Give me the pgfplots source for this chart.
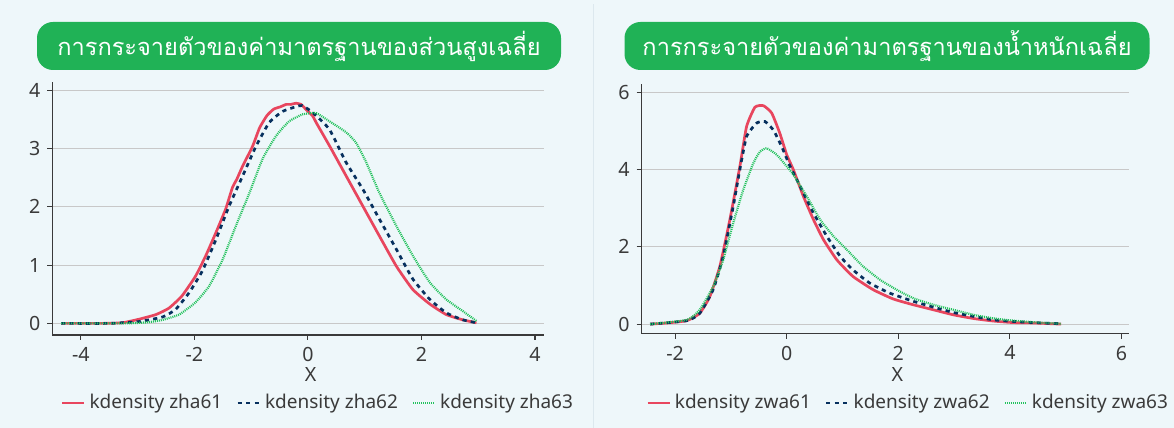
\documentclass[border=0pt]{standalone}
\usepackage{fontspec}
\usepackage{pgfplots}
\pgfplotsset{compat=1.18}
\setmainfont{Noto Sans}
\newfontfamily\thaifont[Script=Thai]{Loma}
\definecolor{bgc}{HTML}{EEF7FA}
\definecolor{sepc}{HTML}{DCE8EE}
\definecolor{titlegreen}{HTML}{20B256}
\definecolor{cred}{HTML}{E8465E}
\definecolor{cnavy}{HTML}{07305E}
\definecolor{cgreen}{HTML}{22C25C}
\definecolor{gridc}{HTML}{C8C8C8}
\definecolor{axc}{HTML}{3A3A3A}

\pgfplotsset{
  kd/.style={
    scale only axis,
    axis x line=bottom, axis y line=left,
    axis line style={axc, line width=0.7pt, -},
    tick align=outside,
    major tick length=2.5pt,
    tick style={axc, line width=0.6pt},
    ymajorgrids, xmajorgrids=false,
    grid style={gridc, line width=0.6pt},
    /pgf/number format/assume math mode=true,
    ticklabel style={font=\fontsize{9.8}{11}\selectfont, text=axc},
    label style={font=\fontsize{9.8}{11}\selectfont, text=axc},
    legend columns=3,
    legend style={draw=none, fill=none, font=\fontsize{9.5}{11}\selectfont, text=axc,
      /tikz/every even column/.append style={column sep=5pt},
      inner sep=0pt},
    legend cell align=left,
    legend image code/.code={\draw[#1] (0pt,0pt) -- (11pt,0pt);},
  },
  sred/.style={cred, line width=1.35pt, solid, smooth, tension=0.3},
  snavy/.style={cnavy, line width=1.35pt, dash pattern=on 2.1pt off 2.1pt, smooth, tension=0.3},
  sgreen/.style={cgreen, line width=1.1pt, dash pattern=on 0.5pt off 0.5pt, smooth, tension=0.3},
}

\begin{document}
\begin{tikzpicture}
\useasboundingbox (0pt,0pt) rectangle (587pt,214pt);
\fill[bgc] (0pt,0pt) rectangle (587pt,214pt);
\draw[sepc, line width=0.5pt] (296.5pt,0pt) -- (296.5pt,212pt);

\node[fill=titlegreen, rounded corners=8pt, minimum width=262pt, minimum height=24pt, inner sep=0pt, text=white]
  at (149.5pt,191pt) {\thaifont\fontsize{11.8}{14}\selectfont การกระจายตัวของค่ามาตรฐานของส่วนสูงเฉลี่ย};
\node[fill=titlegreen, rounded corners=8pt, minimum width=262.5pt, minimum height=24pt, inner sep=0pt, text=white]
  at (443.5pt,191pt) {\thaifont\fontsize{11.8}{14}\selectfont การกระจายตัวของค่ามาตรฐานของน้ำหนักเฉลี่ย};

\begin{axis}[kd,
  at={(26.25pt,46.5pt)}, anchor=south west,
  width=245.75pt, height=126.65pt,
  xmin=-4.5, xmax=4.16, ymin=-0.2, ymax=4.15,
  xtick={-4,-2,0,2,4}, ytick={0,1,2,3,4},
  xlabel={X},
  xlabel style={at={(0.525,-0.154)}, anchor=center},
  legend style={at={(0.542,-0.268)}, anchor=center},
]
\addplot[sred] coordinates {
(-4.35,0.00) (-3.6,0.00) (-3.27,0.01) (-2.98,0.07) (-2.68,0.15) (-2.45,0.26)
(-2.22,0.47) (-1.98,0.81) (-1.80,1.16) (-1.62,1.56) (-1.45,1.96) (-1.33,2.33)
(-1.25,2.48) (-1.15,2.70) (-0.975,3.04) (-0.85,3.36) (-0.72,3.57) (-0.60,3.68)
(-0.48,3.72) (-0.385,3.76) (-0.30,3.76) (-0.21,3.78) (-0.12,3.76) (-0.03,3.67) (0.085,3.56)
(0.145,3.45) (0.38,3.05) (0.675,2.53) (0.97,2.01) (1.26,1.50) (1.56,0.98)
(1.85,0.58) (2.15,0.33) (2.44,0.15) (2.73,0.06) (2.97,0.01)
};
\addlegendentry{kdensity zha61}
\addplot[snavy] coordinates {
(-4.35,0.00) (-3.5,0.00) (-2.98,0.03) (-2.56,0.11) (-2.33,0.24) (-2.09,0.53)
(-1.86,0.90) (-1.62,1.44) (-1.39,2.01) (-1.15,2.53) (-0.915,3.04) (-0.68,3.45)
(-0.445,3.64) (-0.21,3.72) (-0.1,3.74) (0.085,3.62) (0.38,3.33) (0.675,2.76)
(0.97,2.30) (1.26,1.79) (1.56,1.27) (1.85,0.76) (2.15,0.41) (2.44,0.18)
(2.73,0.06) (2.97,0.01)
};
\addlegendentry{kdensity zha62}
\addplot[sgreen] coordinates {
(-4.35,0.00) (-3.2,0.00) (-2.8,0.02) (-2.56,0.06) (-2.27,0.15) (-1.98,0.36)
(-1.74,0.64) (-1.50,1.10) (-1.27,1.67) (-1.03,2.24) (-0.80,2.82) (-0.56,3.22)
(-0.33,3.47) (-0.09,3.59) (0.145,3.61) (0.38,3.47) (0.675,3.28) (0.85,3.10)
(1.03,2.76) (1.26,2.24) (1.56,1.67) (1.85,1.16) (2.15,0.70) (2.44,0.41)
(2.73,0.21) (2.97,0.04)
};
\addlegendentry{kdensity zha63}
\end{axis}

\begin{axis}[kd,
  at={(320.85pt,47.1pt)}, anchor=south west,
  width=243.5pt, height=124.9pt,
  xmin=-2.6, xmax=6.13, ymin=-0.25, ymax=6.21,
  xtick={-2,0,2,4,6}, ytick={0,2,4,6},
  xlabel={X},
  xlabel style={at={(0.525,-0.161)}, anchor=center},
  legend style={at={(0.549,-0.277)}, anchor=center},
]
\addplot[sred] coordinates {
(-2.45,0.00) (-2.15,0.03) (-1.79,0.09) (-1.56,0.28) (-1.38,0.71) (-1.20,1.49)
(-1.02,2.70) (-0.84,4.08) (-0.72,5.11) (-0.57,5.61) (-0.42,5.65) (-0.27,5.46)
(-0.125,4.94) (0.0,4.38) (0.12,3.99) (0.30,3.30) (0.48,2.70) (0.66,2.18)
(0.90,1.66) (1.19,1.23) (1.55,0.89) (1.91,0.65) (2.27,0.50) (2.63,0.37)
(2.99,0.24) (3.35,0.145) (3.70,0.08) (4.06,0.04) (4.42,0.03) (4.92,0.00)
};
\addlegendentry{kdensity zwa61}
\addplot[snavy] coordinates {
(-2.45,0.00) (-1.79,0.09) (-1.56,0.28) (-1.32,0.89) (-1.14,1.75) (-0.96,3.04)
(-0.84,4.00) (-0.72,4.85) (-0.54,5.20) (-0.39,5.24) (-0.24,5.02) (-0.09,4.59)
(0.06,4.08) (0.30,3.39) (0.48,2.87) (0.72,2.27) (0.96,1.75) (1.19,1.40)
(1.49,1.06) (1.85,0.80) (2.27,0.59) (2.63,0.44) (2.99,0.30) (3.35,0.20)
(3.70,0.11) (4.06,0.07) (4.42,0.04) (4.92,0.01)
};
\addlegendentry{kdensity zwa62}
\addplot[sgreen] coordinates {
(-2.45,0.00) (-1.79,0.11) (-1.56,0.37) (-1.32,0.97) (-1.14,1.66) (-0.96,2.61)
(-0.78,3.47) (-0.60,4.16) (-0.48,4.46) (-0.36,4.55) (-0.18,4.38) (0.0,4.08)
(0.12,3.86) (0.36,3.30) (0.60,2.70) (0.84,2.27) (1.08,1.92) (1.37,1.49)
(1.67,1.15) (1.97,0.89) (2.27,0.67) (2.63,0.50) (2.99,0.37) (3.35,0.24)
(3.70,0.15) (4.06,0.09) (4.42,0.05) (4.92,0.01)
};
\addlegendentry{kdensity zwa63}
\end{axis}
\end{tikzpicture}
\end{document}
